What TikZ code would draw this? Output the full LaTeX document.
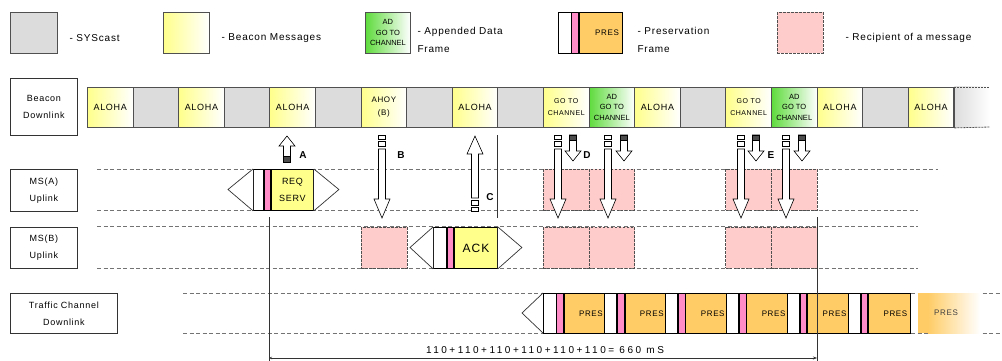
\documentclass[tikz,border=0pt]{standalone}
\usepackage{fontspec}
\setmainfont{Liberation Sans}[LetterSpace=8]
\newfontfamily\adfont{Liberation Sans}
\usetikzlibrary{positioning,arrows.meta}

\definecolor{sysgray}{HTML}{DCDCDC}
\definecolor{beaconyellow}{HTML}{FFFF8C}
\definecolor{adgreen}{HTML}{5EDB3C}
\definecolor{prespink}{HTML}{FF8CC6}
\definecolor{presorange}{HTML}{FFCC66}
\definecolor{recpink}{HTML}{FFCCCC}
\definecolor{edgegray}{HTML}{505050}

\tikzset{
  slotbox/.style={draw=edgegray, line width=0.9pt, anchor=north west, inner sep=0pt,
    minimum width=45.6pt, minimum height=40pt, align=center},
  sysslot/.style={slotbox, fill=sysgray},
  beaconslot/.style={slotbox, left color=beaconyellow, right color=white, font=\fontsize{9}{13}\selectfont},
  gotoslot/.style={beaconslot, font=\fontsize{7}{12}\selectfont},
  adslot/.style={slotbox, left color=adgreen, right color=white, font=\adfont\fontsize{7.5}{10.5}\selectfont},
  recbox/.style={draw=edgegray, fill=recpink, dash pattern=on 2.5pt off 1.5pt, line width=0.7pt,
    anchor=north west, inner sep=0pt, minimum width=45.6pt, minimum height=41pt},
  lane/.style={edgegray!80, dash pattern=on 4pt off 2.5pt, line width=0.8pt},
  labelbox/.style={draw=black!80, line width=0.8pt, anchor=north west, inner sep=0pt,
    align=center, font=\fontsize{9}{17}\selectfont},
  legendtext/.style={anchor=west, font=\fontsize{10}{18}\selectfont, align=left},
  framepart/.style={draw=black, line width=0.8pt, anchor=north west, inner sep=0pt, minimum height=40pt},
  preswhite/.style={framepart, fill=white, minimum width=12.5pt},
  prespinkbar/.style={framepart, fill=prespink, minimum width=6.5pt},
  presbody/.style={framepart, fill=presorange, minimum width=41.9pt},
  blockarrow/.style={draw=black, fill=white, line width=0.6pt, line join=miter},
  arrowlabel/.style={font=\bfseries\fontsize{10}{12}\selectfont},
  hairline/.style={draw=black!80, line width=0.7pt},
}

% block arrow: x, tail, head base, tip
\newcommand{\blockarrow}[4]{%
  \draw[blockarrow] (#1-3.5,#2) -- (#1-3.5,#3) -- (#1-8,#3) -- (#1,#4)
    -- (#1+8,#3) -- (#1+3.5,#3) -- (#1+3.5,#2) -- cycle;}
% broken tail: x, y1, y2, y3, y4
\newcommand{\tailbits}[5]{%
  \draw[blockarrow] (#1-3.5,#2) rectangle (#1+3.5,#3);
  \draw[blockarrow] (#1-3.5,#4) rectangle (#1+3.5,#5);}

\begin{document}
\begin{tikzpicture}[x=1pt, y=-1pt]
  \useasboundingbox (0,0) rectangle (1002,361);

  % Legend
  \node[sysslot, minimum width=47pt, minimum height=41pt] (legsys) at (10,12) {};
  \node[legendtext] (legsystxt) at (66,38) {- SYScast};
  \node[beaconslot, minimum width=46pt, minimum height=41pt] (legbeacon) at (163,12) {};
  \node[legendtext] (legbeacontxt) at (218,38) {- Beacon Messages};
  \node[adslot, minimum width=45pt, minimum height=41pt] (legad) at (365,12) {AD\\GO TO\\CHANNEL};
  \node[legendtext] (legadtxt) at (414,40) {- Appended Data\\Frame};
  \node[preswhite, minimum height=41pt] (legpw) at (558,12) {};
  \node[prespinkbar, minimum height=41pt] (legpp) at (legpw.north east) {};
  \node[presbody, minimum height=41pt, minimum width=43pt] (legpo) at (legpp.north east) {};
  \node[anchor=east, font=\fontsize{8}{10}\selectfont] (legpotxt) at (legpo.east) {PRES};
  \node[legendtext] (legprestxt) at (634,40) {- Preservation\\Frame};
  \node[recbox, minimum height=41pt] (legrec) at (777,12) {};
  \node[legendtext] (legrectxt) at (842,38) {- Recipient of a message};

  % Row labels
  \node[labelbox, minimum width=67pt, minimum height=57pt] (lblbeacon) at (10,78) {Beacon\\Downlink};
  \node[labelbox, minimum width=67pt, minimum height=42pt] (lblmsa) at (10,169) {MS(A)\\Uplink};
  \node[labelbox, minimum width=67pt, minimum height=41pt] (lblmsb) at (10,227) {MS(B)\\Uplink};
  \node[labelbox, minimum width=107pt, minimum height=40pt] (lbltraffic) at (10,293) {Traffic Channel\\Downlink};

  % Lanes
  \draw[lane] (97,169) -- (938,169);
  \draw[lane] (97,210) -- (918,210);
  \draw[lane] (97,226) -- (918,226);
  \draw[lane] (97,268) -- (918,268);
  \draw[lane] (183,293) -- (1000,293);
  \draw[lane] (183,333) -- (1000,333);

  % Beacon downlink slots
  \foreach \i in {1,3,5,7,9,13,17} {
    \node[sysslot] (b\i) at ({87+45.6*\i},87) {};
  }
  \foreach \i in {0,2,4,8,12,16,18} {
    \node[beaconslot] (b\i) at ({87+45.6*\i},87) {ALOHA};
  }
  \node[beaconslot, font=\fontsize{8}{13}\selectfont] (b6) at ({87+45.6*6},87) {AHOY\\(B)};
  \node[gotoslot] (b10) at ({87+45.6*10},87) {GO TO\\CHANNEL};
  \node[adslot] (b11) at ({87+45.6*11},87) {AD\\GO TO\\CHANNEL};
  \node[gotoslot] (b14) at ({87+45.6*14},87) {GO TO\\CHANNEL};
  \node[adslot] (b15) at ({87+45.6*15},87) {AD\\GO TO\\CHANNEL};
  % fading end of the beacon row
  \shade[left color=sysgray, right color=white] (b18.north east) rectangle (990,127);
  \draw[edgegray, dash pattern=on 2pt off 1pt, line width=0.8pt] (b18.north east) -- (990,87);
  \draw[edgegray, dash pattern=on 2pt off 1pt, line width=0.8pt] (b18.south east) -- (990,127);
  \draw[edgegray, line width=0.9pt] (b18.north east) -- (b18.south east);

  % Recipients of a message
  \foreach \x/\n in {543/1, 588.6/2, 725.4/3, 771/4} {
    \node[recbox] (ra\n) at (\x,169) {};
    \node[recbox] (rb\n) at (\x,227) {};
  }
  \node[recbox] (rb0) at (361,227) {};

  % REQ SERV on MS(A)
  \node[preswhite, minimum width=10pt, minimum height=41pt] (rqw) at (253,169) {};
  \node[prespinkbar, minimum height=41pt] (rqp) at (rqw.north east) {};
  \node[framepart, fill=beaconyellow, minimum width=42pt, minimum height=41pt, align=center,
    font=\fontsize{9}{17}\selectfont] (rqy) at (rqp.north east) {REQ\\SERV};
  \draw[hairline, fill=white] (rqw.north west) -- ++(-25,20.5) -- (rqw.south west);
  \draw[hairline, fill=white] (rqy.north east) -- ++(25,20.5) -- (rqy.south east);

  % ACK on MS(B)
  \node[preswhite, minimum width=13pt, minimum height=41pt] (ackw) at (433,227) {};
  \node[prespinkbar, minimum height=41pt] (ackp) at (ackw.north east) {};
  \node[framepart, fill=beaconyellow, minimum width=43pt, minimum height=41pt,
    font=\fontsize{12}{14}\selectfont] (acky) at (ackp.north east) {ACK};
  \draw[hairline, fill=white] (ackw.north west) -- ++(-23,20.5) -- (ackw.south west);
  \draw[hairline, fill=white] (acky.north east) -- ++(24,20.5) -- (acky.south east);

  % Traffic channel downlink
  \draw[hairline, fill=white] (543,293) -- (522,313) -- (543,333);
  \foreach \k in {0,...,5} {
    \node[preswhite] (tw\k) at ({543+60.9*\k},293) {};
    \node[prespinkbar] (tp\k) at (tw\k.north east) {};
    \node[presbody] (to\k) at (tp\k.north east) {};
    \node[anchor=east, font=\fontsize{8}{10}\selectfont] (tt\k) at (to\k.east) {PRES};
  }
  \fill[presorange] (918,293) rectangle (928,333);
  \shade[left color=presorange, right color=white] (928,293) rectangle (980,333);
  \node[font=\fontsize{8}{10}\selectfont, text=black!75] (tfade) at (946,313) {PRES};

  % Time marks
  \coordinate (marka) at (269,217);
  \coordinate (markb) at (817,217);
  \coordinate (markc) at (497,135);
  \draw[hairline] (marka) -- (269,361);
  \draw[hairline] (markb) -- (817,361);
  \draw[hairline] (markc) -- (497,218);
  \draw[hairline, line width=0.5pt, {Stealth[length=3pt,width=2.5pt]}-{Stealth[length=4pt,width=3pt]}]
    (269,358) -- (817,358);
  \node[font=\fontsize{10}{12}\selectfont\addfontfeature{LetterSpace=25}] (dimtext) at (545,350)
    {110+110+110+110+110+110= 660 mS};

  % Arrows A and C (up)
  \blockarrow{287}{162}{146}{136}
  \fill[black!70] (283.5,156) rectangle (290.5,162);
  \draw[blockarrow, fill=none] (283.5,156) rectangle (290.5,162);
  \node[arrowlabel] (labA) at (303,155) {A};
  \blockarrow{475}{198}{154}{136}
  \tailbits{475}{200}{205}{207}{211}
  \node[arrowlabel] (labC) at (490,197) {C};

  % Arrows B, D, E (down)
  \foreach \x in {382,558,608,741,786} {
    \tailbits{\x}{135}{139}{141}{146}
    \blockarrow{\x}{149}{199}{218}
  }
  \foreach \x in {573,624,756,802} {
    \blockarrow{\x}{135}{151}{161}
    \fill[black!70] (\x-3.5,135) rectangle (\x+3.5,140);
    \draw[blockarrow, fill=none] (\x-3.5,135) rectangle (\x+3.5,140);
  }
  \node[arrowlabel] (labB) at (401,155) {B};
  \node[arrowlabel] (labD) at (587,155) {D};
  \node[arrowlabel] (labE) at (771,155) {E};
\end{tikzpicture}
\end{document}
